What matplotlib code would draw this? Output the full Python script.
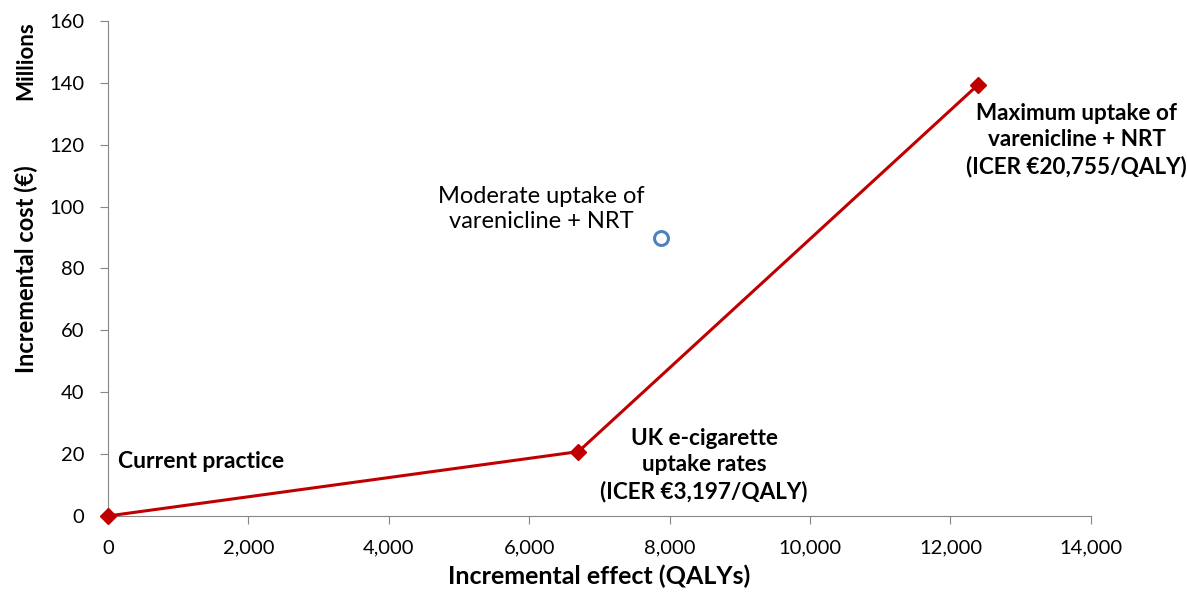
import matplotlib
matplotlib.use('Agg')
import matplotlib.pyplot as plt
from matplotlib.ticker import FuncFormatter

# frontier points (QALYs, cost in millions of EUR)
frontier_x = [0, 6700, 12390]
frontier_y = [0, 20.8, 139.3]
dominated_x = [7880]
dominated_y = [89.9]

plt.rcParams['font.family'] = ['Lato', 'DejaVu Sans']
plt.rcParams['font.size'] = 14

fig = plt.figure(figsize=(11.87, 5.99), dpi=100)
ax = fig.add_axes([0.091, 0.1386, 0.828, 0.8264])

ax.plot(frontier_x, frontier_y, color='#C00000', lw=2.2, marker='D', ms=8, zorder=3,
        clip_on=False)
ax.plot(dominated_x, dominated_y, ls='none', marker='o', ms=10, mfc='white',
        mec='#4F81BD', mew=2.2, zorder=3)

ax.set_xlim(0, 14000)
ax.set_ylim(0, 160)
ax.set_xticks(range(0, 14001, 2000))
ax.set_yticks(range(0, 161, 20))
ax.xaxis.set_major_formatter(FuncFormatter(lambda v, p: f'{int(v):,}'))
for s in ['top', 'right']:
    ax.spines[s].set_visible(False)
for s in ['left', 'bottom']:
    ax.spines[s].set_color('#868686')
ax.tick_params(colors='#868686', labelcolor='black', length=6, labelsize=14.5)
ax.tick_params(axis='x', pad=11)
ax.tick_params(axis='y', pad=11)

ax.set_xlabel('Incremental effect (QALYs)', fontsize=18, fontweight='bold', labelpad=6)
fig.text(0.022, 0.55, 'Incremental cost (€)', rotation=90, fontsize=17,
         fontweight='bold', ha='center', va='center')
fig.text(0.022, 0.898, 'Millions', rotation=90, fontsize=16,
         fontweight='bold', ha='center', va='center')

ax.text(140, 17.5, 'Current practice', fontsize=16.5, fontweight='bold',
        ha='left', va='center')
ax.text(8490, 16.5, 'UK e-cigarette\nuptake rates\n(ICER €3,197/QALY)', fontsize=16.2,
        fontweight='bold', ha='center', va='center', linespacing=1.3)
ax.text(13800, 121.5, 'Maximum uptake of\nvarenicline + NRT\n(ICER €20,755/QALY)', fontsize=16.2,
        fontweight='bold', ha='center', va='center', linespacing=1.3, clip_on=False)
ax.text(6170, 99.2, 'Moderate uptake of\nvarenicline + NRT', fontsize=17,
        ha='center', va='center', linespacing=1.25)

plt.savefig('out.png', dpi=100)
